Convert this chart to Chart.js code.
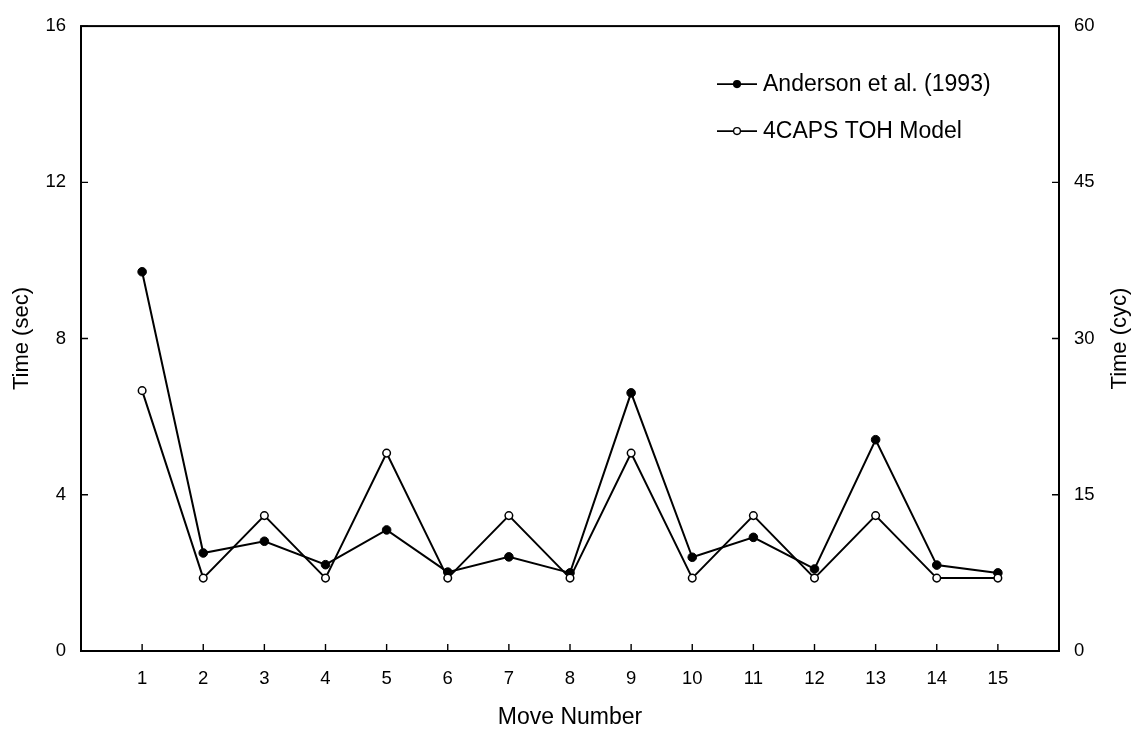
<!DOCTYPE html>
<html>
<head>
<meta charset="utf-8">
<script src="https://cdn.jsdelivr.net/npm/chart.js@4/dist/chart.umd.min.js"></script>
<style>
  html, body { margin: 0; padding: 0; background: #fff; }
  #wrap { width: 1142px; height: 735px; }
</style>
</head>
<body>
<div id="wrap"><canvas id="c" width="1142" height="735"></canvas></div>
<script>
// Move-by-move solution times for the Tower of Hanoi task
const moveNumbers = [1, 2, 3, 4, 5, 6, 7, 8, 9, 10, 11, 12, 13, 14, 15];
const andersonSec = [9.71, 2.51, 2.81, 2.21, 3.10, 2.02, 2.41, 2.00, 6.61, 2.40, 2.91, 2.10, 5.41, 2.20, 2.00];
const modelCyc = [25, 7, 13, 7, 19, 7, 13, 7, 19, 7, 13, 7, 13, 7, 7];
const secTicks = [0, 4, 8, 12, 16];
const cycTicks = [0, 15, 30, 45, 60];
const seriesNames = ['Anderson et al. (1993)', '4CAPS TOH Model'];

const FONT = "'Liberation Sans', Arial, Helvetica, sans-serif";
const INK = '#000';

// Frame around the plot plus inward-pointing tick marks
const framePlugin = {
  id: 'frame',
  afterDraw(chart) {
    const { ctx, chartArea: a, scales } = chart;
    ctx.save();
    ctx.strokeStyle = INK;
    ctx.lineWidth = 2;
    ctx.strokeRect(a.left, a.top, a.right - a.left, a.bottom - a.top);
    ctx.lineWidth = 1.4;
    const len = 7;
    ctx.beginPath();
    scales.x.ticks.forEach(t => {
      const px = scales.x.getPixelForValue(t.value);
      ctx.moveTo(px, a.bottom); ctx.lineTo(px, a.bottom - len);
    });
    scales.y.ticks.forEach(t => {
      const py = scales.y.getPixelForValue(t.value);
      ctx.moveTo(a.left, py); ctx.lineTo(a.left + len, py);
    });
    scales.y2.ticks.forEach(t => {
      const py = scales.y2.getPixelForValue(t.value);
      ctx.moveTo(a.right, py); ctx.lineTo(a.right - len, py);
    });
    ctx.stroke();

    // right-hand axis title, reading bottom to top
    ctx.fillStyle = INK;
    ctx.font = `22px ${FONT}`;
    ctx.textAlign = 'center';
    ctx.textBaseline = 'middle';
    ctx.translate(1120, (a.top + a.bottom) / 2);
    ctx.rotate(-Math.PI / 2);
    ctx.fillText('Time (cyc)', 0, 0);
    ctx.restore();

    // legend inside the plot, top right
    ctx.save();
    const rows = [a.top + 58, a.top + 105];
    chart.data.datasets.forEach((ds, i) => {
      const y = rows[i];
      const x0 = a.left + 636, x1 = a.left + 676, xm = (x0 + x1) / 2;
      ctx.strokeStyle = INK;
      ctx.lineWidth = 1.6;
      ctx.beginPath(); ctx.moveTo(x0, y); ctx.lineTo(x1, y); ctx.stroke();
      ctx.beginPath();
      ctx.arc(xm, y, 3.4, 0, Math.PI * 2);
      ctx.fillStyle = ds.pointBackgroundColor;
      ctx.fill();
      ctx.lineWidth = 1.3;
      ctx.stroke();
      ctx.fillStyle = INK;
      ctx.font = `23px ${FONT}`;
      ctx.textAlign = 'left';
      ctx.textBaseline = 'middle';
      ctx.fillText(ds.label, x1 + 6, y + 1);
    });
    ctx.restore();
  }
};

new Chart(document.getElementById('c'), {
  type: 'line',
  data: {
    datasets: [
      {
        label: seriesNames[0],
        data: moveNumbers.map((m, i) => ({ x: m, y: andersonSec[i] })),
        yAxisID: 'y',
        borderColor: INK,
        borderWidth: 2,
        pointRadius: 4.3,
        pointBackgroundColor: INK,
        pointBorderColor: INK,
        pointBorderWidth: 1,
        tension: 0,
        order: 2
      },
      {
        label: seriesNames[1],
        data: moveNumbers.map((m, i) => ({ x: m, y: modelCyc[i] })),
        yAxisID: 'y2',
        borderColor: INK,
        borderWidth: 2,
        pointRadius: 3.8,
        pointBackgroundColor: '#fff',
        pointBorderColor: INK,
        pointBorderWidth: 1.5,
        tension: 0,
        order: 1
      }
    ]
  },
  options: {
    responsive: false,
    animation: false,
    layout: { padding: { top: 22, left: 0, right: 0, bottom: 0 } },
    plugins: { legend: { display: false }, tooltip: { enabled: false } },
    scales: {
      x: {
        type: 'linear',
        min: 0,
        max: 16,
        afterBuildTicks(scale) { scale.ticks = moveNumbers.map(v => ({ value: v })); },
        afterFit(scale) { scale.height = 84; },
        grid: { display: false, drawTicks: false },
        border: { display: false },
        ticks: { color: INK, padding: 17, font: { family: FONT, size: 18.5 }, maxRotation: 0, autoSkip: false },
        title: { display: true, text: 'Move Number', color: INK, font: { family: FONT, size: 23 }, padding: { top: 0, bottom: 4 } }
      },
      y: {
        type: 'linear',
        position: 'left',
        min: 0,
        max: 16,
        afterBuildTicks(scale) { scale.ticks = secTicks.map(v => ({ value: v })); },
        afterFit(scale) { scale.width = 81; },
        grid: { display: false, drawTicks: false },
        border: { display: false },
        ticks: { color: INK, padding: 15, font: { family: FONT, size: 18.5 } },
        title: { display: true, text: 'Time (sec)', color: INK, font: { family: FONT, size: 22 }, padding: { top: 9, bottom: 0 } }
      },
      y2: {
        type: 'linear',
        position: 'right',
        min: 0,
        max: 60,
        afterBuildTicks(scale) { scale.ticks = cycTicks.map(v => ({ value: v })); },
        afterFit(scale) { scale.width = 83; },
        grid: { display: false, drawTicks: false },
        border: { display: false },
        ticks: { color: INK, padding: 15, font: { family: FONT, size: 18.5 } }
      }
    }
  },
  plugins: [framePlugin]
});
</script>
</body>
</html>
